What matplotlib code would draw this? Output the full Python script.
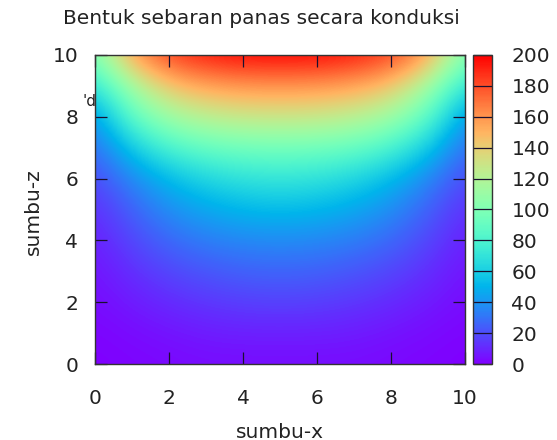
import numpy as np
import matplotlib
matplotlib.use("Agg")
import matplotlib.pyplot as plt

# temperature at x = 0..10, z = 0..10 (left half, mirrored)
x_pos = list(range(11))
z_pos = list(range(11))
half_rows = [
    [0, 1, 2, 3, 3, 3],             # z = 0
    [1, 3, 5, 7, 8, 8],             # z = 1
    [3, 7, 11, 14, 16, 17],         # z = 2
    [5, 12, 18, 22, 25, 26],        # z = 3
    [8, 18, 27, 33, 36, 37],        # z = 4
    [12, 25, 38, 46, 51, 53],       # z = 5
    [18, 36, 52, 63, 69, 71],       # z = 6
    [28, 58, 80, 90, 94, 95],       # z = 7
    [40, 88, 113, 124, 129, 130],   # z = 8
    [68, 115, 145, 156, 160, 161],  # z = 9
    [100, 160, 185, 195, 200, 200]  # z = 10
]
cb_ticks = [0, 20, 40, 60, 80, 100, 120, 140, 160, 180, 200]
axis_ticks = [0, 2, 4, 6, 8, 10]

temp = np.array([r + r[-2::-1] for r in half_rows], dtype=float)

fig = plt.figure(figsize=(5.57, 4.40), dpi=100)
W, H = 557, 440
ax = fig.add_axes([95 / W, 1 - 364 / H, 370 / W, 309 / H])
cax = fig.add_axes([473 / W, 1 - 364 / H, 19 / W, 309 / H])

img = ax.imshow(temp, origin="lower", cmap="rainbow", vmin=0, vmax=200,
                extent=[x_pos[0] - 0.5, x_pos[-1] + 0.5, z_pos[0] - 0.5, z_pos[-1] + 0.5],
                interpolation="bicubic", aspect="auto")
ax.set_xlim(0, 10)
ax.set_ylim(0, 10)
ax.set_xticks(axis_ticks)
ax.set_yticks(axis_ticks)
ax.tick_params(direction="in", length=8.5, width=0.9, color="#1a1030",
               top=True, right=True, labelsize=14.5, labelcolor="#222222")
ax.tick_params(axis="x", pad=18)
ax.tick_params(axis="y", pad=12)
for s in ax.spines.values():
    s.set_color("#333333")
    s.set_linewidth(1.0)

cb = fig.colorbar(img, cax=cax, ticks=cb_ticks)
cb.ax.tick_params(direction="in", length=19 / 1.389, width=0.9, color="#1a1030",
                  labelsize=14.5, labelcolor="#222222", pad=14)
cb.outline.set_edgecolor("#333333")
cb.outline.set_linewidth(1.0)

fig.text(261 / W, 1 - 18 / H, "Bentuk sebaran panas secara konduksi",
         ha="center", va="center", fontsize=14.5, color="#222222")
fig.text(280 / W, 1 - 432 / H, "sumbu-x", ha="center", va="center",
         fontsize=14.5, color="#222222")
fig.text(33 / W, 1 - 212 / H, "sumbu-z", ha="center", va="center",
         rotation=90, fontsize=14.5, color="#222222")
# stray key text mostly hidden behind the plot
fig.text(82 / W, 1 - 106 / H, "'data", ha="left", va="baseline",
         fontsize=11, color="#222222", zorder=-1)

fig.savefig("out.png", dpi=100)
